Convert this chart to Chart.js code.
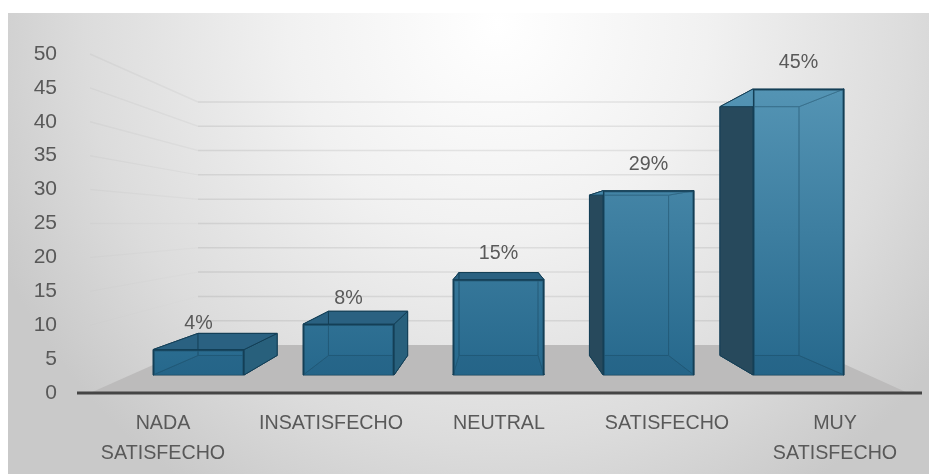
<!DOCTYPE html>
<html>
<head>
<meta charset="utf-8">
<script src="https://cdn.jsdelivr.net/npm/chart.js@4"></script>
<style>
    html, body { margin: 0; padding: 0; background: #fff; overflow: hidden; }
    #stage { position: relative; width: 929px; height: 474px; }
    #panel {
        position: absolute; left: 8px; top: 13px; width: 921px; height: 461px;
        background: radial-gradient(ellipse 550px 560px at 490px 10px, #fff 0%, #f1f1f1 38%, #dcdcdc 75%, #c9c9c9 100%);
    }
    canvas { position: absolute; left: 0; top: 0; }
</style>
</head>
<body>
<div id="stage">
    <div id="panel"></div>
    <canvas id="satisfaction" width="929" height="474"></canvas>
</div>
<script>
const categories = [['NADA', 'SATISFECHO'], 'INSATISFECHO', 'NEUTRAL', 'SATISFECHO', ['MUY', 'SATISFECHO']];
const percentages = [4, 8, 15, 29, 45];
const axisMax = 50;
const axisStep = 5;

const TEXT = '#595959';
const EDGE = '#143f56';
const FONT = { family: '"Liberation Sans", Arial, sans-serif', size: 19.7 };

// perspective of the fake 3D boxes
const DEPTH = 0.87;
const VANISH_Y = 225;
const WALL_INSET_L = 119;
const WALL_INSET_R = 117;
const FLOOR_INSET = 11;

function poly(ctx, pts, fill, stroke) {
    ctx.beginPath();
    pts.forEach((p, i) => i ? ctx.lineTo(p[0], p[1]) : ctx.moveTo(p[0], p[1]));
    ctx.closePath();
    if (fill) { ctx.fillStyle = fill; ctx.fill(); }
    if (stroke) { ctx.strokeStyle = stroke; ctx.lineWidth = 1; ctx.stroke(); }
}

function blueGradient(ctx, scale, alpha) {
    const top = scale.getPixelForValue(percentages[4]);
    const bottom = scale.getPixelForValue(0);
    // scales have no pixels yet on the first pass through the options
    if (!isFinite(top) || !isFinite(bottom)) return EDGE;
    const g = ctx.createLinearGradient(0, top, 0, bottom);
    g.addColorStop(0, `rgba(84, 148, 180, ${alpha})`);
    g.addColorStop(1, `rgba(38, 104, 140, ${alpha})`);
    return g;
}

const room = {
    id: 'room',
    beforeDatasetsDraw(chart) {
        const { ctx, chartArea: a, scales } = chart;
        const wallL = a.left + WALL_INSET_L, wallR = a.right - WALL_INSET_R;
        const floorY = scales.yWall.getPixelForValue(0);

        ctx.save();
        // back wall and side wall grid, the side lines fade out towards the floor
        scales.y.ticks.forEach(t => {
            const wy = scales.yWall.getPixelForValue(t.value);
            const sy = scales.y.getPixelForValue(t.value);
            if (t.value > 0) {
                ctx.strokeStyle = 'rgba(0, 0, 0, 0.08)';
                ctx.lineWidth = 1.5;
                ctx.beginPath(); ctx.moveTo(wallL, wy); ctx.lineTo(wallR, wy); ctx.stroke();
                ctx.strokeStyle = `rgba(0, 0, 0, ${0.04 * t.value / axisMax})`;
                ctx.beginPath(); ctx.moveTo(wallL, wy); ctx.lineTo(a.left + FLOOR_INSET, sy); ctx.stroke();
            }
        });
        // floor
        poly(ctx, [[a.left + FLOOR_INSET, a.bottom], [wallL, floorY], [wallR, floorY], [a.right - FLOOR_INSET, a.bottom]], '#bcbbbb');

        // box faces behind the front face the bar element draws
        const vx = scales.xFront.getPixelForValue(2);
        const back = (x, y) => [vx + DEPTH * (x - vx), VANISH_Y + DEPTH * (y - VANISH_Y)];
        const inner = blueGradient(ctx, scales.yFront, 1);
        chart.getDatasetMeta(0).data.forEach(bar => {
            const p = bar.getProps(['x', 'y', 'base', 'width'], true);
            const l = p.x - p.width / 2, r = p.x + p.width / 2;
            const fTL = [l, p.y], fTR = [r, p.y], fBL = [l, p.base], fBR = [r, p.base];
            const bTL = back(l, p.y), bTR = back(r, p.y), bBL = back(l, p.base), bBR = back(r, p.base);
            const leftOut = bTL[0] < l, rightOut = bTR[0] > r, topOut = bTL[1] < p.y;

            poly(ctx, [bTL, bTR, bBR, bBL], inner, EDGE);
            poly(ctx, [fBL, fBR, bBR, bBL], '#235f82', EDGE);
            poly(ctx, [fTL, fBL, bBL, bTL], leftOut ? '#27495c' : inner, EDGE);
            poly(ctx, [fTR, fBR, bBR, bTR], rightOut ? '#28607c' : inner, EDGE);
            poly(ctx, [fTL, fTR, bTR, bTL], topOut ? '#2a6181' : inner, EDGE);
            if (topOut) {
                ctx.strokeStyle = EDGE;
                ctx.beginPath(); ctx.moveTo(bTL[0], bTL[1]); ctx.lineTo(bBL[0], bBL[1]); ctx.stroke();
            }
        });
        ctx.restore();
    },
    afterDatasetsDraw(chart) {
        const { ctx, chartArea: a } = chart;
        ctx.save();
        // category axis line
        ctx.strokeStyle = '#454545';
        ctx.lineWidth = 3;
        ctx.beginPath(); ctx.moveTo(a.left - 2, a.bottom); ctx.lineTo(a.right + 3, a.bottom); ctx.stroke();
        // value labels
        ctx.fillStyle = TEXT;
        ctx.font = `${FONT.size}px ${FONT.family}`;
        ctx.textAlign = 'center';
        ctx.textBaseline = 'middle';
        chart.getDatasetMeta(0).data.forEach((bar, i) => {
            ctx.fillText(percentages[i] + '%', bar.x, bar.y - 26);
        });
        ctx.restore();
    }
};

new Chart(document.getElementById('satisfaction'), {
    type: 'bar',
    plugins: [room],
    data: {
        labels: categories,
        datasets: [{
            label: 'Satisfacción',
            data: percentages.map((v, i) => ({ x: i, y: v })),
            xAxisID: 'xFront',
            yAxisID: 'yFront',
            barThickness: 91,
            borderWidth: 1.5,
            borderColor: EDGE,
            backgroundColor: c => blueGradient(c.chart.ctx, c.chart.scales.yFront, 0.6)
        }]
    },
    options: {
        responsive: false,
        animation: false,
        layout: { padding: { top: 54, right: 10, left: 0, bottom: 0 } },
        plugins: { legend: { display: false }, tooltip: { enabled: false } },
        scales: {
            x: {
                grid: { display: false },
                border: { display: false },
                afterFit: s => { s.height = 81; },
                ticks: {
                    color: TEXT, font: { ...FONT, lineHeight: 1.5 },
                    padding: 8, maxRotation: 0, autoSkip: false
                }
            },
            y: {
                min: 0, max: axisMax,
                afterFit: s => { s.width = 79; },
                grid: { display: false },
                border: { display: false },
                ticks: { stepSize: axisStep, color: TEXT, font: { ...FONT, size: 21 }, padding: 14 }
            },
            // front plane of the boxes sits forward of the axis and is spaced differently
            xFront: { type: 'linear', display: false, offset: false, min: -0.797, max: 4.803 },
            yFront: { type: 'linear', display: false, min: -2.832, max: 50.5 },
            // back wall plane, used for the grid lines only
            yWall: { type: 'linear', display: false, min: -9.88, max: 59.87 }
        }
    }
});
</script>
</body>
</html>
